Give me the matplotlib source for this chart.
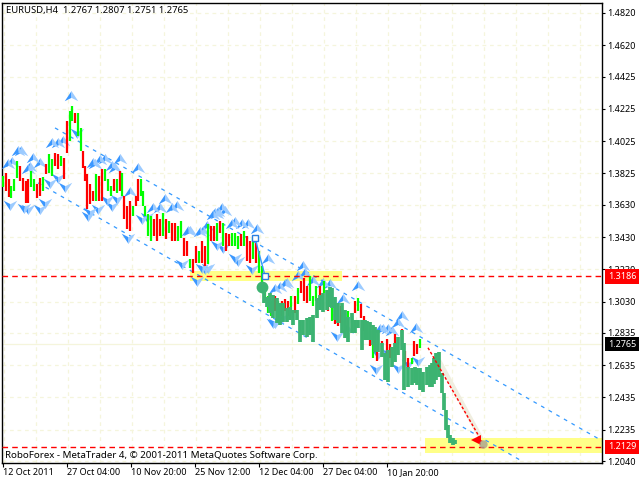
import matplotlib
matplotlib.use('Agg')
import matplotlib.pyplot as plt
from matplotlib.path import Path
from matplotlib.patches import Rectangle

plt.rcParams['font.family'] = ['Noto Sans', 'DejaVu Sans']

price_ticks = [1.4820, 1.4620, 1.4425, 1.4225, 1.4025, 1.3825, 1.3630, 1.3430, 1.3230,
	1.3030, 1.2835, 1.2635, 1.2435, 1.2235, 1.2040]
date_pos = [3, 67, 131, 195, 259, 323, 387]
date_labels = ['12 Oct 2011', '27 Oct 04:00', '10 Nov 20:00', '25 Nov 12:00',
	'12 Dec 04:00', '27 Dec 04:00', '10 Jan 20:00']

bar_x = [3, 6, 9, 11, 14, 17, 20, 23, 26, 28, 31, 34, 37, 40, 43, 46, 49, 52, 55, 58,
	61, 64, 67, 70, 72, 75, 78, 81, 83, 85, 87, 90, 93, 96, 99, 102, 105, 108, 111, 114,
	117, 120, 122, 124, 127, 130, 133, 136, 138, 141, 143, 145, 148, 151, 154, 157, 160, 163, 166, 169,
	172, 175, 178, 181, 184, 187, 190, 193, 196, 199, 202, 205, 208, 211, 214, 217, 220, 223, 226, 229,
	232, 235, 238, 241, 244, 247, 250, 253, 256, 259, 262, 265, 268, 271, 275, 278, 282, 285, 288, 291,
	295, 298, 301, 304, 307, 310, 313, 316, 320, 324, 328, 332, 335, 338, 341, 345, 348, 352, 355, 358,
	361, 364, 367, 370, 373, 377, 382, 387, 390, 395, 402, 405, 408, 412, 414, 417, 420]
bar_high = [1.3809, 1.3828, 1.3790, 1.3747, 1.3790, 1.3902, 1.3871, 1.3797, 1.3778, 1.3790,
	1.3840, 1.3790, 1.3759, 1.3797, 1.3803, 1.3883, 1.3945, 1.3914, 1.3952, 1.3945,
	1.3933, 1.3921, 1.4150, 1.4212, 1.4243, 1.4200, 1.4200, 1.4107, 1.3964, 1.3871,
	1.3821, 1.3759, 1.3716, 1.3821, 1.3809, 1.3852, 1.3852, 1.3790, 1.3747, 1.3790,
	1.3790, 1.3840, 1.3828, 1.3685, 1.3623, 1.3654, 1.3623, 1.3685, 1.3790, 1.3790,
	1.3716, 1.3623, 1.3573, 1.3561, 1.3542, 1.3573, 1.3542, 1.3580, 1.3542, 1.3530,
	1.3518, 1.3518, 1.3499, 1.3530, 1.3425, 1.3406, 1.3294, 1.3294, 1.3375, 1.3344,
	1.3406, 1.3375, 1.3511, 1.3499, 1.3499, 1.3518, 1.3530, 1.3518, 1.3456, 1.3450,
	1.3456, 1.3456, 1.3437, 1.3450, 1.3468, 1.3437, 1.3406, 1.3425, 1.3394, 1.3344,
	1.3251, 1.3115, 1.3065, 1.3034, 1.3065, 1.3034, 1.3034, 1.3046, 1.3034, 1.3065,
	1.3065, 1.3115, 1.3158, 1.3177, 1.3127, 1.3189, 1.3065, 1.3127, 1.3127, 1.3158,
	1.3084, 1.3034, 1.2953, 1.2941, 1.3003, 1.2972, 1.2972, 1.2941, 1.3034, 1.3053,
	1.3015, 1.2941, 1.2898, 1.2848, 1.2767, 1.2724, 1.2786, 1.2798, 1.2767, 1.2829,
	1.2860, 1.2724, 1.2681, 1.2681, 1.2786, 1.2767, 1.2798]
bar_low = [1.3741, 1.3716, 1.3679, 1.3673, 1.3716, 1.3797, 1.3778, 1.3716, 1.3642, 1.3642,
	1.3741, 1.3716, 1.3673, 1.3685, 1.3716, 1.3821, 1.3828, 1.3809, 1.3871, 1.3852,
	1.3871, 1.3790, 1.3952, 1.4026, 1.4150, 1.4138, 1.4057, 1.3964, 1.3859, 1.3778,
	1.3604, 1.3635, 1.3654, 1.3654, 1.3654, 1.3654, 1.3778, 1.3716, 1.3685, 1.3716,
	1.3704, 1.3716, 1.3685, 1.3542, 1.3480, 1.3468, 1.3561, 1.3623, 1.3654, 1.3685,
	1.3623, 1.3561, 1.3437, 1.3406, 1.3437, 1.3406, 1.3437, 1.3437, 1.3418, 1.3456,
	1.3406, 1.3406, 1.3406, 1.3425, 1.3313, 1.3313, 1.3239, 1.3208, 1.3270, 1.3270,
	1.3270, 1.3251, 1.3263, 1.3406, 1.3406, 1.3406, 1.3456, 1.3375, 1.3344, 1.3375,
	1.3375, 1.3375, 1.3356, 1.3375, 1.3375, 1.3282, 1.3270, 1.3294, 1.3270, 1.3208,
	1.3096, 1.3034, 1.2960, 1.2941, 1.2972, 1.2910, 1.2941, 1.2972, 1.2941, 1.2960,
	1.2960, 1.3015, 1.3084, 1.3034, 1.3022, 1.3034, 1.3003, 1.3034, 1.3034, 1.3084,
	1.2972, 1.2910, 1.2891, 1.2879, 1.2898, 1.2879, 1.2848, 1.2898, 1.2960, 1.2972,
	1.2929, 1.2848, 1.2817, 1.2755, 1.2681, 1.2662, 1.2705, 1.2705, 1.2681, 1.2724,
	1.2755, 1.2643, 1.2619, 1.2643, 1.2693, 1.2705, 1.2743]
bar_up = 'grrggg' + 'rrrrggrrgrggrrgrrggrggrrrrrgrrgggrgrgrrrgrrgggggrrrgrgrrggrrgrrgrrgrrgrgrrgggrgrrgrgggggrgrrrgrgrrrgggrgrgrrrgggrgrrgrgrrrrrrrrgrrgrrggr'

forecast_x = [264, 267, 270, 273, 277, 280, 283, 287, 290, 293, 297, 300, 303, 307, 310, 313, 317, 320, 323, 327,
	330, 332, 335, 338, 342, 345, 348, 352, 355, 358, 362, 365, 367, 370, 373, 375, 378, 382, 385, 388,
	392, 395, 398, 402, 404, 408, 412, 415, 417, 420, 423, 427, 430, 432, 434, 436, 439, 442, 444, 446,
	448, 450, 453, 455]
forecast_high = [1.3115, 1.3060, 1.3084, 1.3072, 1.3053, 1.3022, 1.3022, 1.2991, 1.2997, 1.2979,
	1.2979, 1.2917, 1.2917, 1.2929, 1.2936, 1.2948, 1.3053, 1.3072, 1.3084, 1.3103,
	1.3122, 1.3115, 1.3060, 1.3022, 1.3022, 1.2979, 1.2936, 1.2960, 1.2917, 1.2917,
	1.2917, 1.2917, 1.2911, 1.2905, 1.2886, 1.2874, 1.2855, 1.2774, 1.2712, 1.2731,
	1.2750, 1.2774, 1.2812, 1.2855, 1.2774, 1.2626, 1.2619, 1.2626, 1.2619, 1.2619,
	1.2595, 1.2626, 1.2638, 1.2650, 1.2681, 1.2712, 1.2719, 1.2588, 1.2465, 1.2359,
	1.2266, 1.2204, 1.2185, 1.2173]
forecast_low = [1.3022, 1.2998, 1.2960, 1.2929, 1.2898, 1.2886, 1.2905, 1.2905, 1.2917, 1.2886,
	1.2917, 1.2781, 1.2824, 1.2812, 1.2824, 1.2781, 1.2929, 1.2979, 1.2967, 1.2979,
	1.2997, 1.2991, 1.2917, 1.2898, 1.2836, 1.2805, 1.2781, 1.2836, 1.2836, 1.2867,
	1.2731, 1.2793, 1.2793, 1.2793, 1.2762, 1.2719, 1.2719, 1.2688, 1.2545, 1.2533,
	1.2626, 1.2657, 1.2700, 1.2731, 1.2483, 1.2502, 1.2514, 1.2526, 1.2514, 1.2483,
	1.2471, 1.2514, 1.2502, 1.2502, 1.2520, 1.2545, 1.2564, 1.2465, 1.2359, 1.2235,
	1.2185, 1.2154, 1.2142, 1.2148]

peak_x = [71, 52, 58, 63, 18, 21, 33, 40, 8, 28, 95, 105, 112, 120, 138, 165, 153, 177, 215, 188,
	207, 225, 217, 203, 190, 232, 242, 248, 257, 268, 303, 298, 313, 330, 358, 343, 285, 275, 380, 388,
	398, 402, 416, 383, 392, 347, 12, 30, 93, 100, 115, 160, 172, 200, 218, 213, 222, 235, 280, 287,
	305, 323, 130]
peak_y = [1.4305, 1.4014, 1.4014, 1.4026, 1.3964, 1.3964, 1.3921, 1.3890, 1.3883, 1.3852,
	1.3883, 1.3914, 1.3871, 1.3914, 1.3859, 1.3666, 1.3611, 1.3623, 1.3580, 1.3468,
	1.3499, 1.3592, 1.3573, 1.3468, 1.3468, 1.3511, 1.3511, 1.3511, 1.3480, 1.3294,
	1.3251, 1.3189, 1.3158, 1.3139, 1.3127, 1.3046, 1.3139, 1.3108, 1.2860, 1.2860,
	1.2898, 1.2941, 1.2867, 1.2860, 1.2848, 1.2860, 1.3897, 1.3866, 1.3890, 1.3909,
	1.3859, 1.3611, 1.3611, 1.3463, 1.3587, 1.3568, 1.3611, 1.3525, 1.3122, 1.3146,
	1.3208, 1.3146, 1.3711]
trough_x = [10, 28, 40, 45, 65, 50, 77, 88, 98, 112, 117, 142, 128, 182, 197, 205, 223, 238, 252, 273,
	282, 337, 378, 388, 376, 398, 418, 408, 24, 58, 90, 107, 147, 202, 208, 235, 217, 275]
trough_y = [1.3629, 1.3604, 1.3604, 1.3642, 1.3741, 1.3766, 1.4076, 1.3561, 1.3604, 1.3623,
	1.3666, 1.3542, 1.3425, 1.3263, 1.3158, 1.3232, 1.3363, 1.3282, 1.3232, 1.2898,
	1.2929, 1.2817, 1.2705, 1.2712, 1.2612, 1.2619, 1.2662, 1.2643, 1.3611, 1.3797,
	1.3587, 1.3661, 1.3556, 1.3239, 1.3239, 1.3301, 1.3382, 1.2898]

upper_x = [55, 602]
upper_y = [1.4107, 1.2166]
lower_x = [38, 523]
lower_y = [1.3766, 1.2036]
level_top = 1.3186
level_bottom = 1.2129
last_price = 1.2765

PX_LEFT, PX_RIGHT, PX_TOP, PX_BOTTOM = 2, 602, 3, 463
PRICE_GREEN = '#00ff00'
PRICE_RED = '#ff0000'
BLUE_LINE = '#3399ff'
FORECAST = '#3cb371'
YELLOW = '#ffff88'
GRID = '#f5f5dc'

# pattern icons are split in a dark and a pale wing
KITE_CODES = [Path.MOVETO, Path.LINETO, Path.LINETO, Path.CLOSEPOLY]
KITE_UP_L = Path([(0, 0.8), (-1, -0.7), (0, -0.2), (0, 0.8)], KITE_CODES)
KITE_UP_R = Path([(0, 0.8), (1, -0.7), (0, -0.2), (0, 0.8)], KITE_CODES)
KITE_DOWN_L = Path([(0, -0.8), (-1, 0.7), (0, 0.2), (0, -0.8)], KITE_CODES)
KITE_DOWN_R = Path([(0, -0.8), (1, 0.7), (0, 0.2), (0, -0.8)], KITE_CODES)


def draw_price_box(ax, value, color):
	box = dict(boxstyle='square,pad=0.3', lw=0, fc=color)
	ax.text(608, value, '%.4f' % value, fontsize=6.5, color='white', va='center', ha='left',
		bbox=box, clip_on=False, zorder=8)


fig = plt.figure(figsize=(6.4, 4.8), dpi=100)
ax = fig.add_axes([PX_LEFT / 640, 1 - PX_BOTTOM / 480, (PX_RIGHT - PX_LEFT) / 640, (PX_BOTTOM - PX_TOP) / 480])
ax.set_xlim(PX_LEFT, PX_RIGHT)
ax.set_ylim(1.2028, 1.4882)

for side in ax.spines:
	ax.spines[side].set_linewidth(1)

# grid
ax.set_yticks(price_ticks)
ax.set_yticklabels(['%.4f' % p for p in price_ticks], fontsize=6.5)
ax.yaxis.tick_right()
ax.tick_params(axis='y', length=2.2, width=0.8, pad=1.5)
ax.set_xticks(date_pos)
ax.set_xticklabels(date_labels, fontsize=6.5, ha='left')
ax.tick_params(axis='x', length=3, width=0.8, pad=0.5)
for p in price_ticks:
	ax.axhline(p, color=GRID, lw=0.9, ls=(0, (3, 3)), zorder=0)
for x in range(4, 603, 32):
	ax.axvline(x, color=GRID, lw=0.9, ls=(0, (3, 3)), zorder=0)
ax.axhline(last_price, color=GRID, lw=0.9, zorder=0.5)

# support/resistance zones
ax.add_patch(Rectangle((190, 1.3159), 152, 0.0062, color=YELLOW, lw=0, zorder=1))
ax.add_patch(Rectangle((425, 1.2092), 177, 0.0093, color=YELLOW, lw=0, zorder=1))

# channel
ax.plot(upper_x, upper_y, color=BLUE_LINE, lw=0.9, ls=(0, (3, 4)), zorder=2)
ax.plot(lower_x, lower_y, color=BLUE_LINE, lw=0.9, ls=(0, (3, 4)), zorder=2)

# pattern icons
ax.scatter(peak_x, peak_y, marker=KITE_UP_L, s=95, color='#3a97ff', lw=0, zorder=3)
ax.scatter(peak_x, peak_y, marker=KITE_UP_R, s=95, color='#9ccbff', lw=0, zorder=3)
ax.scatter(trough_x, trough_y, marker=KITE_DOWN_L, s=95, color='#3a97ff', lw=0, zorder=3)
ax.scatter(trough_x, trough_y, marker=KITE_DOWN_R, s=95, color='#9ccbff', lw=0, zorder=3)

# price bars
for x, hi, lo, c in zip(bar_x, bar_high, bar_low, bar_up):
	color = PRICE_GREEN if c == 'g' else PRICE_RED
	ax.vlines(x, lo, hi, color=color, lw=1.6, zorder=4)

# levels
ax.axhline(level_top, color='#ff0000', lw=1, ls=(0, (4, 3)), zorder=5)
ax.axhline(level_bottom, color='#ff0000', lw=1, ls=(0, (4, 3)), zorder=5)

# forecast path, a thick scribble made of vertical strokes
ax.vlines(forecast_x, forecast_low, forecast_high, color=FORECAST, lw=2.7, zorder=6)
ax.plot([262], [1.3122], 'o', color=FORECAST, ms=8.5, mew=0, zorder=6)
ax.plot([255, 265], [1.3425, 1.3190], color=BLUE_LINE, lw=1, zorder=6)
ax.plot([255, 265], [1.3425, 1.3190], 's', mfc='white', mec='#2b7fe0', ms=4.5, mew=1, zorder=7)

# target arrow
ax.plot([440, 480], [1.2650, 1.2192], color='#f0eee0', lw=3.5, zorder=5)
ax.plot([428, 482], [1.2743, 1.2161], color='#ff0000', lw=1, ls=(0, (2, 1.5)), zorder=7)
ax.plot([476], [1.2170], marker='<', color='#ff0000', ms=7.5, mew=0, zorder=7)
ax.plot([483], [1.2148], 'o', color='#a8a290', ms=6, mew=0, alpha=0.8, zorder=7)

# price boxes on the scale
draw_price_box(ax, last_price, 'black')
draw_price_box(ax, level_top, '#ff0000')
draw_price_box(ax, level_bottom, '#ff0000')

fig.text(6 / 640, 1 - 11 / 480, 'EURUSD,H4  1.2767 1.2807 1.2751 1.2765', fontsize=6.8, va='center')
fig.text(5 / 640, 1 - 455 / 480, 'RoboForex - MetaTrader 4, © 2001-2011 MetaQuotes Software Corp.',
	fontsize=7, va='center', zorder=9)

fig.savefig('out.png', dpi=100)
